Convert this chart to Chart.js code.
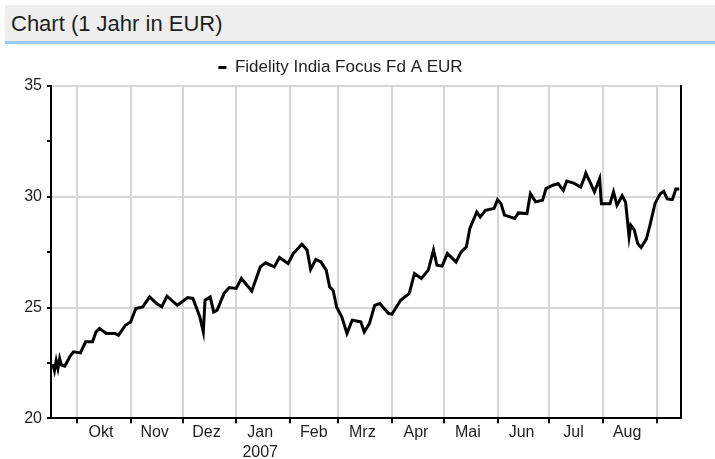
<!DOCTYPE html>
<html>
<head>
<meta charset="utf-8">
<script src="https://cdn.jsdelivr.net/npm/chart.js@4.4.1/dist/chart.umd.min.js"></script>
<style>
  body { margin: 0; background: #fff; width: 715px; height: 459px; position: relative; overflow: hidden; }
  #header {
    position: absolute; left: 5px; top: 5px; width: 710px; height: 36px;
    background: #eeeeee; border-bottom: 3px solid #9ccaf0;
    font-family: "Liberation Sans", Arial, sans-serif; font-size: 22px; color: #1e1e1e;
    line-height: 37px; padding-left: 6px; box-sizing: content-box;
  }
  #chartBox { position: absolute; left: 0; top: 46px; width: 715px; height: 413px; }
</style>
</head>
<body>
<div id="header">Chart (1 Jahr in EUR)</div>
<div id="chartBox"><canvas id="fundChart" width="715" height="413"></canvas></div>
<script>
// x values are days counted from 1 Oct 2006
const xMin = -15;
const xMax = 349;
const monthStarts = [0, 31, 61, 92, 123, 151, 182, 212, 243, 273, 304, 335];
const monthLabels = ['Okt', 'Nov', 'Dez', ['Jan', '2007'], 'Feb', 'Mrz', 'Apr', 'Mai', 'Jun', 'Jul', 'Aug', ''];
const yTicks = [20, 22.5, 25, 27.5, 30, 32.5, 35];

const seriesName = 'Fidelity India Focus Fd A EUR';
const priceDays = [
  -14, -13, -12, -11, -10, -9, -7, -4, -2, 2, 5, 9, 11, 13, 17, 22, 24, 28, 31, 34,
  38, 42, 46, 49, 52, 58, 64, 67, 71, 73, 74, 77, 79, 81, 85, 88, 92, 95, 101, 106,
  109, 114, 117, 122, 125, 130, 133, 135, 138, 141, 144, 146, 148, 150, 153, 156, 159, 164, 166, 169,
  172, 175, 180, 182, 187, 192, 195, 199, 203, 206, 208, 211, 214, 219, 222, 225, 227, 231, 233, 236,
  241, 243, 245, 247, 253, 255, 260, 262, 265, 269, 271, 275, 278, 281, 283, 287, 291, 293, 294, 296,
  299, 302, 303, 308, 310, 312, 315, 317, 319, 320, 322, 324, 326, 329, 331, 334, 337, 339, 341, 344,
  346, 348
];
const priceValues = [
  22.45, 22.15, 22.6, 22.25, 22.7, 22.4, 22.35, 22.8, 23.0, 22.95, 23.45, 23.45, 23.9, 24.06, 23.83, 23.83, 23.75, 24.2, 24.35, 24.96,
  25.03, 25.48, 25.18, 25.03, 25.51, 25.1, 25.45, 25.41, 24.58, 23.9, 25.33, 25.48, 24.8, 24.88, 25.64, 25.9, 25.86, 26.31, 25.75, 26.84,
  27.02, 26.84, 27.26, 26.99, 27.44, 27.86, 27.59, 26.72, 27.17, 27.06, 26.69, 25.93, 25.78, 25.03, 24.58, 23.83, 24.43, 24.36, 23.9, 24.28,
  25.1, 25.18, 24.73, 24.7, 25.33, 25.64, 26.54, 26.31, 26.69, 27.59, 26.91, 26.87, 27.44, 27.06, 27.51, 27.74, 28.57, 29.31, 29.09, 29.39,
  29.47, 29.87, 29.69, 29.17, 29.02, 29.27, 29.24, 30.14, 29.77, 29.84, 30.37, 30.52, 30.6, 30.29, 30.71, 30.62, 30.44, 30.82, 31.07, 30.74,
  30.22, 30.82, 29.69, 29.69, 30.22, 29.62, 30.05, 29.75, 28.19, 28.72, 28.5, 27.89, 27.71, 28.1, 28.7, 29.7, 30.14, 30.25, 29.9, 29.87,
  30.35, 30.35
];

const tickFont = { family: '"Liberation Sans", Arial, sans-serif', size: 16, lineHeight: 1.2 };
const gridGray = '#d6d6d6';

const ctx = document.getElementById('fundChart').getContext('2d');
new Chart(ctx, {
  type: 'line',
  data: {
    datasets: [{
      label: seriesName,
      data: priceDays.map((d, i) => ({ x: d, y: priceValues[i] })),
      borderColor: '#000',
      backgroundColor: '#000',
      borderWidth: 3,
      pointRadius: 0,
      tension: 0
    }]
  },
  options: {
    responsive: false,
    animation: false,
    devicePixelRatio: 1,
    layout: { padding: { top: 3, right: 34, left: 0, bottom: 0 } },
    plugins: {
      tooltip: { enabled: false },
      legend: {
        display: true,
        position: 'top',
        labels: {
          boxWidth: 8,
          boxHeight: 3,
          padding: 10,
          color: '#1e1e1e',
          font: { family: '"Liberation Sans", Arial, sans-serif', size: 17 },
          generateLabels: chart => {
            const items = Chart.defaults.plugins.legend.labels.generateLabels(chart);
            items.forEach(it => { it.lineWidth = 0; it.fillStyle = '#000'; });
            return items;
          }
        }
      }
    },
    scales: {
      x: {
        type: 'linear',
        min: xMin,
        max: xMax,
        afterBuildTicks: s => { s.ticks = monthStarts.map(v => ({ value: v })); },
        afterFit: s => { s.height = 40.7; },
        grid: { color: gridGray, lineWidth: 2, tickColor: '#000', tickLength: 5, tickWidth: 2 },
        border: { color: '#000', width: 2 },
        ticks: {
          autoSkip: false,
          maxRotation: 0,
          labelOffset: 24,
          padding: 0,
          color: '#1e1e1e',
          font: tickFont,
          callback: (v, i) => monthLabels[i]
        }
      },
      y: {
        min: 20,
        max: 35,
        afterBuildTicks: s => { s.ticks = yTicks.map(v => ({ value: v })); },
        afterFit: s => { s.width = 51; },
        grid: {
          color: c => (c.tick && c.tick.value % 5 === 0) ? gridGray : 'rgba(0,0,0,0)',
          lineWidth: 2,
          tickColor: '#000',
          tickLength: 4,
          tickWidth: 2
        },
        border: { color: '#000', width: 2 },
        ticks: {
          padding: 5,
          color: '#1e1e1e',
          font: tickFont,
          callback: v => (v % 5 === 0 ? v : '')
        }
      },
      yRight: {
        position: 'right',
        min: 20,
        max: 35,
        afterFit: s => { s.width = 0; },
        ticks: { display: false },
        grid: { drawOnChartArea: false, drawTicks: false },
        border: { color: '#000', width: 2 }
      }
    }
  }
});
</script>
</body>
</html>
